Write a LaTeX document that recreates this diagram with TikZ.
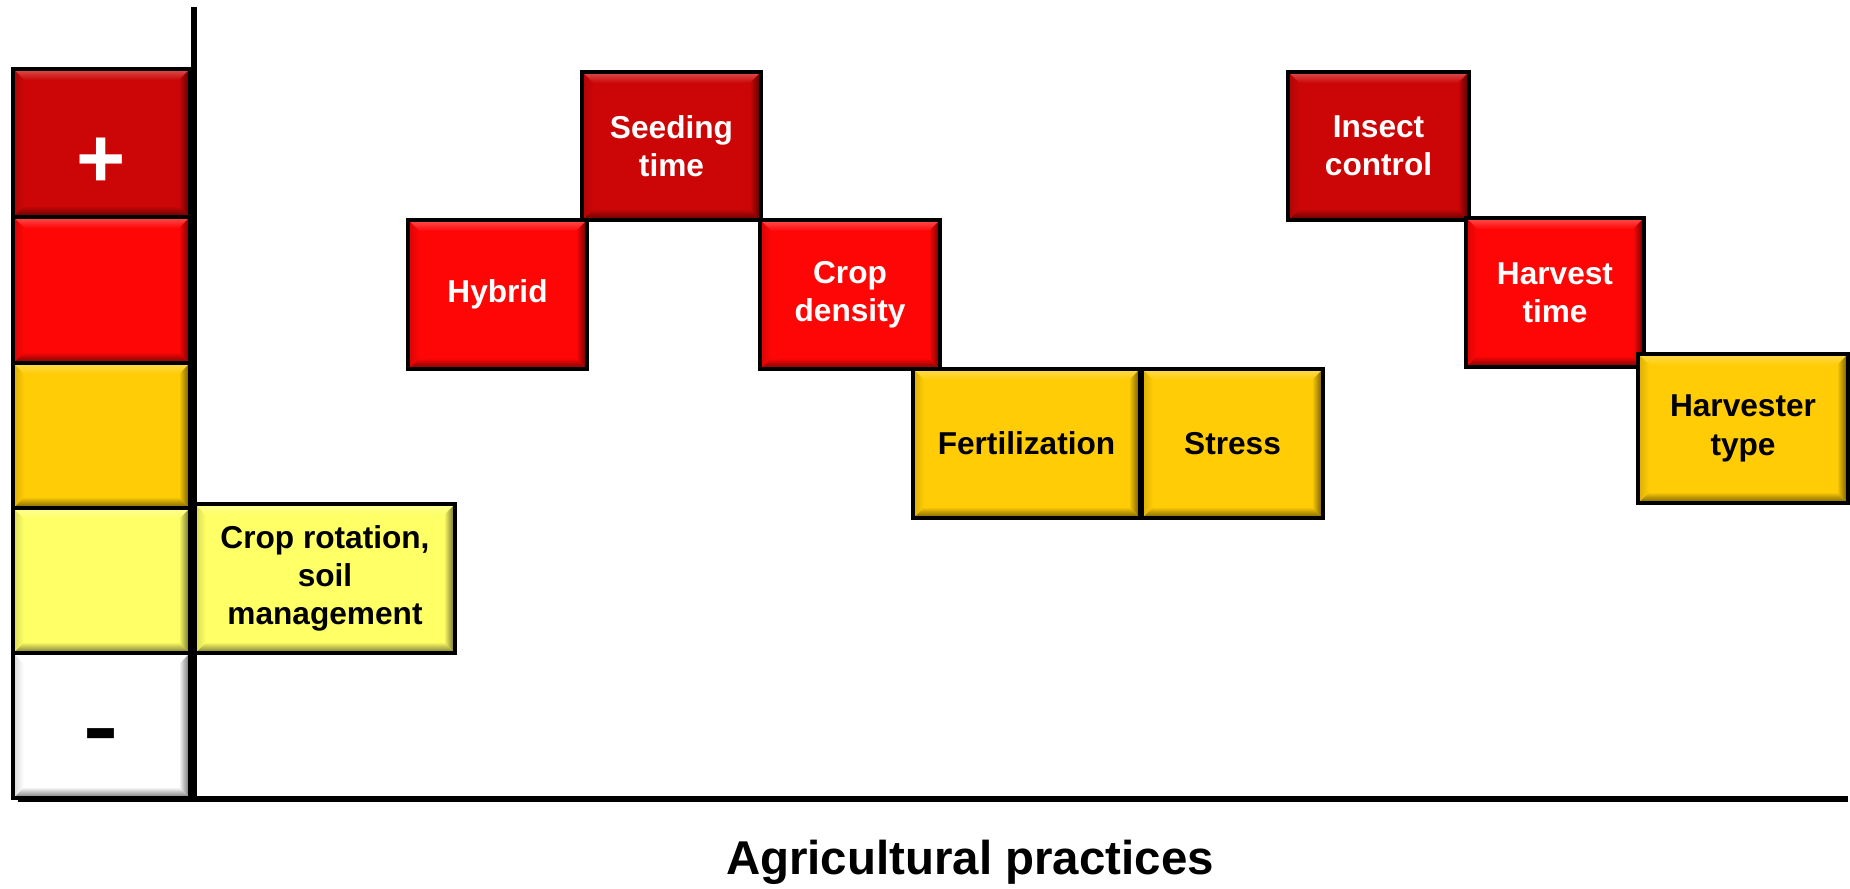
\documentclass[tikz,border=0pt]{standalone}
\usepackage{fontspec}
\setmainfont{Liberation Sans}
\usepackage{tikz}
\usetikzlibrary{calc}
\usepackage{xcolor}
\definecolor{tileDark}{HTML}{CC0606}
\definecolor{tileRed}{HTML}{FF0606}
\definecolor{tileGold}{HTML}{FFCC06}
\definecolor{tilePale}{HTML}{FFFF66}
\def\tileBevel{0.22cm}

\begin{document}
\begin{tikzpicture}[
  x=0.2mm, y=-0.2mm,
  every node/.style={align=center},
  wh/.style 2 args={minimum width=#1*0.2mm, minimum height=#2*0.2mm},
  tile/.style={rectangle, draw=black, line width=2pt, fill=#1, inner sep=0pt,
               font=\fontsize{18}{21.8}\selectfont\bfseries,
               path picture={
                 \coordinate (tNW) at (path picture bounding box.north west);
                 \coordinate (tSE) at (path picture bounding box.south east);
                 \coordinate (tNE) at (tNW -| tSE);
                 \coordinate (tSW) at (tNW |- tSE);
                 % bevel: light top, dark bottom and right, soft left
                 \shade[top color=#1!70!white, bottom color=#1]
                   (tNW) -- (tNE) -- ([shift={(-\tileBevel,-\tileBevel)}]tNE)
                   -- ([shift={(\tileBevel,-\tileBevel)}]tNW) -- cycle;
                 \shade[top color=#1, bottom color=#1!45!black]
                   (tSW) -- (tSE) -- ([shift={(-\tileBevel,\tileBevel)}]tSE)
                   -- ([shift={(\tileBevel,\tileBevel)}]tSW) -- cycle;
                 \shade[left color=#1, right color=#1!40!black]
                   (tNE) -- (tSE) -- ([shift={(-\tileBevel,\tileBevel)}]tSE)
                   -- ([shift={(-\tileBevel,-\tileBevel)}]tNE) -- cycle;
                 \shade[left color=#1!85!black, right color=#1]
                   (tNW) -- (tSW) -- ([shift={(\tileBevel,\tileBevel)}]tSW)
                   -- ([shift={(\tileBevel,-\tileBevel)}]tNW) -- cycle;
               }},
  darktile/.style={tile=tileDark, text=white},
  redtile/.style={tile=tileRed, text=white},
  goldtile/.style={tile=tileGold, text=black},
  paletile/.style={tile=tilePale, text=black},
  blanktile/.style={tile=white, text=black},
  axis/.style={draw=black, line width=3.2pt},
]
\useasboundingbox (0,0) rectangle (1850,889);

% ── Grid ───────────────────────────────────────────────────────────
\def\colS{101.5}     % scale column x
\def\rowA{146}       % top row y
\def\rowB{294.5}
\def\rowC{443.5}
\def\rowD{578.5}

% ── Scale column ───────────────────────────────────────────────────
\node[darktile, wh={177}{148}]  (scalePlus) at (\colS,143)
  {\fontsize{48}{48}\selectfont\smash{\raisebox{-0.88cm}{+}}};
\node[redtile, wh={177}{146}]   (scaleRed)  at (\colS,290) {};
\node[goldtile, wh={177}{145}]  (scaleGold) at (\colS,435.5) {};
\node[paletile, wh={177}{145}]  (scalePale) at (\colS,580.5) {};
\node[blanktile, wh={177}{145}] (scaleMinus) at (\colS,725.5)
  {\fontsize{48}{48}\selectfont\smash{\raisebox{-0.6cm}{\scalebox{1.25}[1]{-}}}};

% ── Practices ──────────────────────────────────────────────────────
\node[paletile, wh={260}{149}] (rotation) at (325,\rowD) {Crop rotation,\\soil\\management};

\node[redtile, wh={179}{149}]  (hybrid)   at (497.5,\rowB) {Hybrid};
\node[darktile, wh={179}{148}] (seeding)  at (671.5,\rowA) {Seeding\\time};
\node[redtile, wh={180}{149}]  (density)  at (850,\rowB)   {Crop\\density};

\node[goldtile, wh={227}{149}] (fert)     at (1026.5,\rowC) {Fertilization};
\node[goldtile, wh={181}{149}] (stress)   at (1232.5,\rowC) {Stress};

\node[darktile, wh={181}{148}] (insect)   at (1378.5,\rowA) {Insect\\control};
\node[redtile, wh={178}{149}]  (harvtime) at (1555,292.5)   {Harvest\\time};
\node[goldtile, wh={210}{149}] (harvester) at (1743,428.5)  {Harvester\\type};

% ── Axes ───────────────────────────────────────────────────────────
\coordinate (origin) at (194,799);
\coordinate (yTop)   at (194,7);
\coordinate (xStart) at (18,799);
\coordinate (xEnd)   at (1848,799);
\draw[axis] (yTop) -- ([yshift=-1.6pt]origin);
\draw[axis] (xStart) -- (xEnd);

\node[font=\fontsize{27}{32}\selectfont\bfseries] (xlabel) at (970,862)
  {Agricultural practices};

\end{tikzpicture}
\end{document}
